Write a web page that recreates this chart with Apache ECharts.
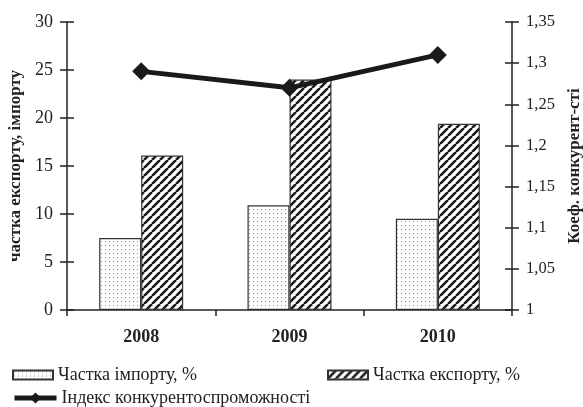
<!DOCTYPE html>
<html>
<head>
<meta charset="utf-8">
<script src="https://cdn.jsdelivr.net/npm/echarts@6/dist/echarts.min.js"></script>
<style>
  html, body { margin: 0; padding: 0; background: #fff; }
  #chart { width: 583px; height: 407px; }
</style>
</head>
<body>
<div id="chart"></div>
<script>
// дані
const years = ['2008', '2009', '2010']
const importShare = [7.5, 10.9, 9.5]
const exportShare = [16.1, 24.0, 19.4]
const competitiveness = [1.29, 1.27, 1.31]

const serif = '"Liberation Serif", "DejaVu Serif", serif'
const ink = '#222'

// штрихування для стовпців
function dotPattern() {
  const c = document.createElement('canvas')
  c.width = 4; c.height = 4
  const g = c.getContext('2d')
  g.fillStyle = '#fff'
  g.fillRect(0, 0, 4, 4)
  g.fillStyle = '#8a8a8a'
  g.fillRect(1, 1, 1, 1)
  return c
}

function hatchPattern() {
  const s = 8
  const c = document.createElement('canvas')
  c.width = s; c.height = s
  const g = c.getContext('2d')
  g.fillStyle = '#fff'
  g.fillRect(0, 0, s, s)
  g.strokeStyle = '#1a1a1a'
  g.lineWidth = 2.6
  g.beginPath()
  for (let k = -1; k <= 1; k++) {
    g.moveTo(k * s, s)
    g.lineTo(k * s + s, 0)
  }
  g.stroke()
  return c
}

const chart = echarts.init(document.getElementById('chart'))

const leftAxisBase = {
  type: 'value',
  position: 'left',
  min: 0,
  max: 30,
  interval: 5
}
const rightAxisBase = {
  type: 'value',
  position: 'right',
  min: 1,
  max: 1.35,
  interval: 0.05
}

const legendText = { fontFamily: serif, fontSize: 18, color: ink }

chart.setOption({
  animation: false,
  grid: { left: 67, right: 71, top: 22, bottom: 97, outerBoundsMode: 'none' },
  legend: [
    {
      data: ['Частка імпорту, %'],
      left: 7, top: 361,
      icon: 'rect',
      itemWidth: 40, itemHeight: 9,
      textStyle: legendText
    },
    {
      data: ['Частка експорту, %'],
      left: 322, top: 361,
      icon: 'rect',
      itemWidth: 40, itemHeight: 9,
      textStyle: legendText
    },
    {
      data: ['Індекс конкурентоспроможності'],
      left: 7, top: 384,
      itemWidth: 42, itemHeight: 14,
      lineStyle: { width: 5 },
      textStyle: legendText
    }
  ],
  xAxis: {
    type: 'category',
    data: years,
    axisLine: { lineStyle: { color: ink, width: 1.5 } },
    axisTick: { show: true, length: 6, lineStyle: { color: ink, width: 1.5 } },
    axisLabel: { fontFamily: serif, fontSize: 18, fontWeight: 'bold', color: ink, margin: 18 }
  },
  yAxis: [
    {
      ...leftAxisBase,
      name: 'частка експорту, імпорту',
      nameLocation: 'middle',
      nameRotate: 90,
      nameGap: 42,
      nameTextStyle: { fontFamily: serif, fontSize: 17, fontWeight: 'bold', color: ink },
      axisLine: { show: true, lineStyle: { color: ink, width: 1.5 } },
      axisTick: { show: true, length: 7, lineStyle: { color: ink, width: 1.5 } },
      axisLabel: { fontFamily: serif, fontSize: 18, color: ink, margin: 14 },
      splitLine: { show: false }
    },
    {
      ...rightAxisBase,
      name: 'Коеф. конкурент-сті',
      nameLocation: 'middle',
      nameRotate: 90,
      nameGap: 46,
      nameTextStyle: { fontFamily: serif, fontSize: 17, fontWeight: 'bold', color: ink },
      axisLine: { show: true, lineStyle: { color: ink, width: 1.5 } },
      axisTick: { show: true, length: 7, lineStyle: { color: ink, width: 1.5 } },
      axisLabel: {
        fontFamily: serif, fontSize: 16.5, color: ink, margin: 14,
        formatter: v => String(+v.toFixed(2)).replace('.', ',')
      },
      splitLine: { show: false }
    },
    // внутрішні засічки, щоб вони перетинали вісь
    {
      ...leftAxisBase,
      axisLine: { show: false },
      axisTick: { show: true, inside: true, length: 7, lineStyle: { color: ink, width: 1.5 } },
      axisLabel: { show: false },
      splitLine: { show: false }
    },
    {
      ...rightAxisBase,
      axisLine: { show: false },
      axisTick: { show: true, inside: true, length: 7, lineStyle: { color: ink, width: 1.5 } },
      axisLabel: { show: false },
      splitLine: { show: false }
    }
  ],
  series: [
    {
      name: 'Частка імпорту, %',
      type: 'bar',
      yAxisIndex: 0,
      barWidth: 42,
      barGap: '0%',
      data: importShare,
      itemStyle: {
        color: { image: dotPattern(), repeat: 'repeat' },
        borderColor: '#333',
        borderWidth: 1.2
      }
    },
    {
      name: 'Частка експорту, %',
      type: 'bar',
      yAxisIndex: 0,
      barWidth: 42,
      barGap: '0%',
      data: exportShare,
      itemStyle: {
        color: { image: hatchPattern(), repeat: 'repeat' },
        borderColor: '#333',
        borderWidth: 1.2
      }
    },
    {
      name: 'Індекс конкурентоспроможності',
      type: 'line',
      yAxisIndex: 1,
      data: competitiveness,
      symbol: 'diamond',
      symbolSize: 18,
      lineStyle: { color: '#1a1a1a', width: 5 },
      itemStyle: { color: '#1a1a1a' },
      z: 5
    }
  ]
})
</script>
</body>
</html>
